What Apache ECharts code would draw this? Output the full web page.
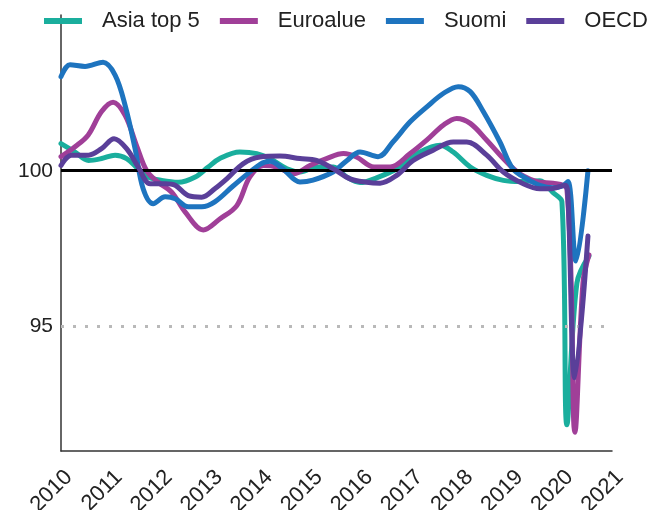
<!DOCTYPE html>
<html>
<head>
<meta charset="utf-8">
<script src="https://cdn.jsdelivr.net/npm/echarts@6/dist/echarts.min.js"></script>
<style>html,body{margin:0;padding:0;background:#fff}#c{width:651px;height:510px}</style>
</head>
<body>
<div id="c"></div>
<script>
const seriesNames = ['Asia top 5', 'Euroalue', 'Suomi', 'OECD'];
const xTicks = [2010, 2011, 2012, 2013, 2014, 2015, 2016, 2017, 2018, 2019, 2020, 2021];
const yLabels = [95, 100];

const asiaT = [2010.0, 2010.28, 2010.55, 2010.81, 2011.08, 2011.31, 2011.54, 2011.74, 2012.01, 2012.34, 2012.68, 2012.94, 2013.17, 2013.57, 2013.91, 2014.17, 2014.51, 2014.77, 2015.10, 2015.44, 2015.70, 2015.97, 2016.30, 2016.77, 2017.17, 2017.57, 2017.83, 2018.17, 2018.50, 2018.83, 2019.16, 2019.56, 2019.82, 2020.0, 2020.10, 2020.30, 2020.54];
const asiaV = [100.87, 100.6, 100.33, 100.39, 100.5, 100.39, 100.06, 99.8, 99.69, 99.63, 99.8, 100.12, 100.39, 100.6, 100.55, 100.39, 100.06, 99.96, 100.12, 100.12, 99.8, 99.62, 99.77, 100.12, 100.6, 100.82, 100.6, 100.12, 99.85, 99.69, 99.65, 99.68, 99.3, 99.0, 91.84, 96.4, 97.26];

const euroT = [2010.0, 2010.28, 2010.54, 2010.81, 2011.04, 2011.28, 2011.51, 2011.71, 2011.94, 2012.21, 2012.48, 2012.84, 2013.17, 2013.51, 2013.77, 2014.04, 2014.31, 2014.64, 2014.97, 2015.30, 2015.64, 2015.90, 2016.25, 2016.57, 2016.97, 2017.30, 2017.63, 2017.90, 2018.17, 2018.50, 2018.83, 2019.16, 2019.56, 2019.82, 2020.10, 2020.26, 2020.42, 2020.54];
const euroV = [100.45, 100.77, 101.14, 101.9, 102.2, 101.78, 100.8, 100.0, 99.63, 99.31, 98.67, 98.1, 98.45, 98.88, 99.8, 100.17, 100.12, 99.9, 100.17, 100.39, 100.55, 100.44, 100.12, 100.12, 100.55, 100.98, 101.46, 101.68, 101.52, 100.98, 100.39, 99.9, 99.63, 99.6, 99.4, 91.6, 96.4, 97.3];

const suomiT = [2010.0, 2010.18, 2010.48, 2010.84, 2011.08, 2011.28, 2011.48, 2011.64, 2011.84, 2012.08, 2012.28, 2012.54, 2012.81, 2013.07, 2013.43, 2013.97, 2014.17, 2014.43, 2014.77, 2015.03, 2015.43, 2015.71, 2015.97, 2016.33, 2016.63, 2016.97, 2017.31, 2017.63, 2017.93, 2018.17, 2018.43, 2018.76, 2019.02, 2019.30, 2019.56, 2019.82, 2020.0, 2020.12, 2020.28, 2020.52];
const suomiV = [103.02, 103.4, 103.35, 103.48, 103.07, 102.1, 100.7, 99.42, 98.94, 99.16, 99.1, 98.84, 98.84, 99.0, 99.5, 100.2, 100.3, 100.06, 99.64, 99.7, 99.96, 100.33, 100.6, 100.45, 100.93, 101.57, 102.06, 102.48, 102.7, 102.54, 101.9, 100.93, 100.06, 99.74, 99.53, 99.45, 99.5, 99.65, 97.1, 100.0];

const oecdT = [2010.0, 2010.21, 2010.55, 2010.81, 2011.06, 2011.31, 2011.54, 2011.78, 2012.08, 2012.28, 2012.54, 2012.81, 2013.07, 2013.31, 2013.64, 2013.97, 2014.37, 2014.77, 2015.10, 2015.44, 2015.77, 2016.10, 2016.37, 2016.70, 2017.03, 2017.43, 2017.83, 2018.10, 2018.50, 2018.83, 2019.23, 2019.56, 2019.76, 2020.06, 2020.12, 2020.26, 2020.52];
const oecdV = [100.17, 100.5, 100.5, 100.71, 101.03, 100.71, 100.12, 99.58, 99.58, 99.53, 99.2, 99.15, 99.42, 99.74, 100.23, 100.44, 100.47, 100.39, 100.33, 100.06, 99.74, 99.63, 99.6, 99.85, 100.33, 100.66, 100.92, 100.92, 100.5, 99.96, 99.58, 99.42, 99.42, 99.53, 99.2, 93.35, 97.9];

const colors = ['#1aae9d', '#a03f98', '#1e74bf', '#5a3f99'];
const pair = (t, v) => t.map((x, i) => [x, v[i]]);
const allData = [pair(asiaT, asiaV), pair(euroT, euroV), pair(suomiT, suomiV), pair(oecdT, oecdV)];

const chart = echarts.init(document.getElementById('c'), null, {renderer: 'canvas'});
const font = 'Liberation Sans, Arial, Helvetica, sans-serif';
const series = seriesNames.map((name, i) => ({
  name: name,
  type: 'line',
  data: allData[i],
  smooth: 0.35,
  showSymbol: false,
  symbol: 'none',
  lineStyle: {width: 5, color: colors[i], cap: 'round', join: 'round'},
  itemStyle: {color: colors[i]},
  emphasis: {disabled: true},
  z: 2 + i
}));
series[series.length - 1].markLine = {
  silent: true,
  symbol: ['none', 'none'],
  label: {show: false},
  emphasis: {disabled: true},
  animation: false,
  data: [
    {yAxis: 100, lineStyle: {color: '#000', width: 3, type: 'solid'}},
    {yAxis: 95, lineStyle: {color: '#b9b9b9', width: 3, type: [3, 9]}}
  ]
};

chart.setOption({
  animation: false,
  color: colors,
  textStyle: {fontFamily: font},
  legend: {
    data: seriesNames,
    left: 44,
    top: 10,
    width: 640,
    padding: 0,
    icon: 'rect',
    itemWidth: 38,
    itemHeight: 6,
    itemGap: 20,
    textStyle: {fontSize: 22, color: '#222', fontFamily: font, padding: [0, 0, 0, 15]}
  },
  grid: {left: 61, right: 39, top: 15, bottom: 59, containLabel: false, outerBoundsMode: 'none'},
  xAxis: {
    type: 'value',
    min: xTicks[0],
    max: xTicks[xTicks.length - 1],
    interval: 1,
    axisLine: {show: true, lineStyle: {color: '#333', width: 1.5}},
    axisTick: {show: false},
    splitLine: {show: false},
    axisLabel: {
      rotate: 45,
      margin: 15,
      fontSize: 22,
      color: '#222',
      fontFamily: font,
      verticalAlign: 'top',
      formatter: v => String(v)
    }
  },
  yAxis: {
    type: 'value',
    min: 91,
    max: 105,
    interval: 1,
    axisLine: {show: true, lineStyle: {color: '#333', width: 1.5}},
    axisTick: {show: false},
    splitLine: {show: false},
    axisLabel: {
      margin: 8,
      fontSize: 21,
      color: '#222',
      fontFamily: font,
      formatter: v => (yLabels.indexOf(v) >= 0 ? String(v) : '')
    }
  },
  series: series
});
</script>
</body>
</html>
